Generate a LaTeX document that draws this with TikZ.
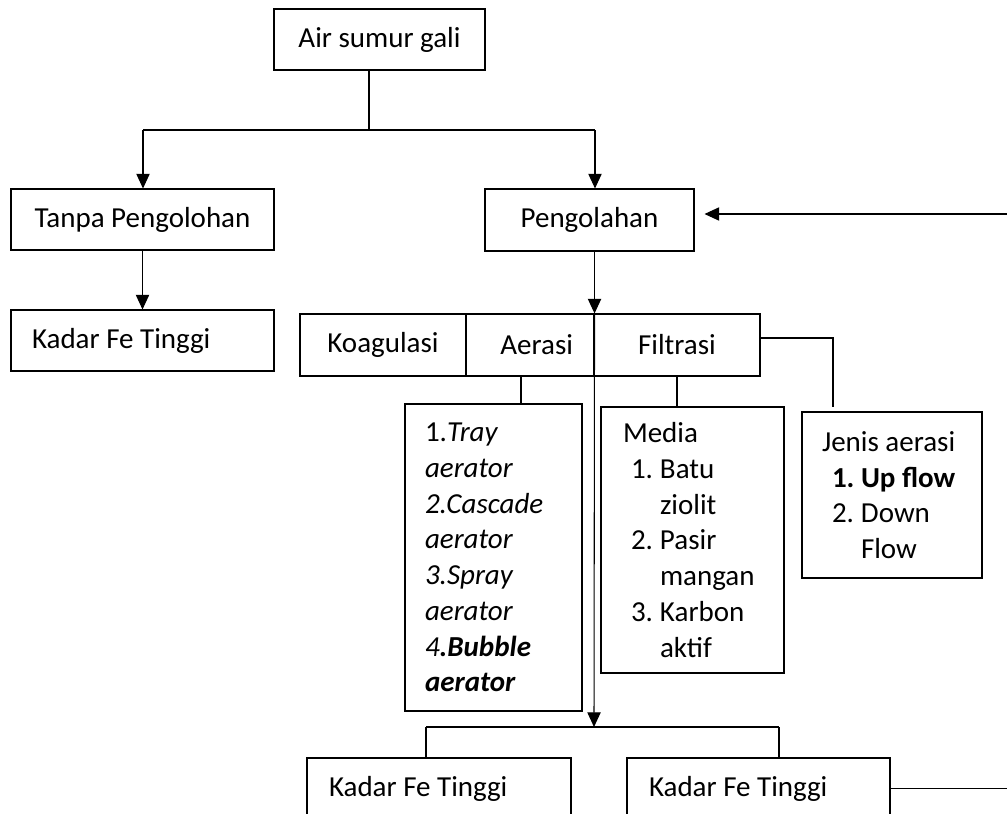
\documentclass[tikz,border=0pt]{standalone}
\usepackage{fontspec}
\setmainfont{Carlito}
\usetikzlibrary{arrows.meta}
\newcommand{\natsp}{\spaceskip=0pt\relax\xspaceskip=0pt\relax}
\begin{document}
\begin{tikzpicture}[x=0.75pt,y=-0.75pt,
  every node/.style={font=\fontsize{21.75}{26.8}\selectfont},
  box/.style 2 args={draw,line width=0.8pt,rectangle,inner sep=0pt,minimum width=#1*0.75pt,minimum height=#2*0.75pt},
  ln/.style={line width=0.8pt},
  arr/.style={line width=0.8pt,-{Triangle[length=11pt,width=10pt]}}]
\useasboundingbox (0,0) rectangle (1007,814);
\clip (0,0) rectangle (1007,814);
\fill[white] (0,0) rectangle (1007,814);
% boxes
\node[box={211}{61}] (air) at (379.5,39.5) {Air sumur gali};
\node[box={263}{61}] (tanpa) at (142.5,219.5) {Tanpa Pengolohan};
\node[box={263}{61},inner xsep=15.75pt] (kadar1) at (142.5,340.5) {\makebox[165.75pt][l]{Kadar Fe Tinggi}};
\node[box={209}{62}] (peng) at (589.5,220) {Pengolahan};
\node[box={166}{62}] (koag) at (383,345) {Koagulasi};
\node[box={128}{62}] (aer) at (530,345) {\hspace*{10pt}Aerasi};
\node[box={166}{62}] (filt) at (677,345) {Filtrasi};
\node[box={177}{307},text width=137*0.75pt,align=left,inner xsep=15pt] (tray) at (493.5,557.5)
 {\natsp 1.\textit{Tray}\\\textit{aerator}\\\textit{2.Cascade}\\\textit{aerator}\\\textit{3.Spray}\\\textit{aerator}\\\textit{4}\textbf{\textit{.Bubble}}\\\textbf{\textit{aerator}}};
\node[box={179}{266},text width=139*0.75pt,align=left,inner xsep=16.5pt] (media) at (692.5,540)
 {\natsp Media\\\hspace*{6pt}\makebox[21.75pt][l]{1.}Batu\\\hspace*{27.75pt}ziolit\\\hspace*{6pt}\makebox[21.75pt][l]{2.}Pasir\\\hspace*{27.75pt}mangan\\\hspace*{6pt}\makebox[21.75pt][l]{3.}Karbon\\\hspace*{27.75pt}aktif};
\node[box={178}{166},text width=140*0.75pt,align=left,inner xsep=15pt] (jenis) at (892,495)
 {\natsp Jenis aerasi\\\hspace*{7.5pt}\textbf{\makebox[21.75pt][l]{1.}Up flow}\\\hspace*{7.5pt}\makebox[21.75pt][l]{2.}Down\\\hspace*{29.25pt}Flow};
\node[box={264}{61},inner xsep=16.5pt] (kb1) at (439,788.5) {\makebox[165pt][l]{Kadar Fe Tinggi}};
\node[box={263}{61},inner xsep=16.5pt] (kb2) at (758.5,788.5) {\makebox[164.25pt][l]{Kadar Fe Tinggi}};
% coordinates
\coordinate (j1) at (369,130);
\coordinate (j1L) at (143,130);
\coordinate (j1R) at (595,130);
\coordinate (fj) at (833,338);
\coordinate (jc) at (833,407);
\coordinate (hub) at (594,727);
\coordinate (bl) at (426,727);
\coordinate (br) at (779,727);
\coordinate (fbtop) at (1007,214);
\coordinate (fbbot) at (1007,788.5);
% connectors
\draw[ln] (j1 |- air.south) -- (j1);
\draw[ln] (j1L) -- (j1R);
\draw[arr] (j1L) -- (j1L |- tanpa.north);
\draw[arr] (j1R) -- (j1R |- peng.north);
\draw[arr] (tanpa.south) -- (kadar1.north);
\draw[arr] (peng.south -| aer.north east) -- (aer.north east);
\draw[arr] (aer.north east) -- (hub);
\draw[ln] ([xshift=-6.75pt]aer.south) -- ([xshift=-6.75pt]aer.south |- tray.north);
\draw[ln] (filt.south) -- (filt.south |- media.north);
\draw[ln] (filt.east |- fj) -| (jc);
\draw[ln] (bl) -- (br);
\draw[ln] (bl) -- (bl |- kb1.north);
\draw[ln] (br) -- (br |- kb2.north);
\draw[arr,shorten >=7.5pt] (fbtop) -- (peng.east |- fbtop);
\draw[ln] (kb2.east) -- (fbbot);
\end{tikzpicture}
\end{document}
